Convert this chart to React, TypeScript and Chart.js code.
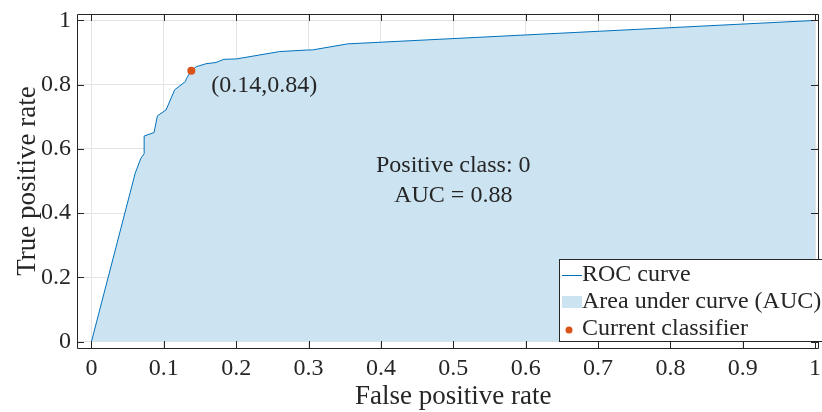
import React, { useEffect, useRef } from "react";
import { Chart, registerables } from "chart.js";

Chart.register(...registerables);

// ROC curve (false positive rate, true positive rate)
const fprValues = [0, 0.0604, 0.0683, 0.0728, 0.0728, 0.0865, 0.0911, 0.103, 0.115, 0.13, 0.131, 0.138, 0.145, 0.158, 0.172, 0.183, 0.2, 0.26, 0.299, 0.305, 0.354, 1];
const tprValues = [0, 0.524, 0.571, 0.585, 0.64, 0.651, 0.703, 0.721, 0.784, 0.81, 0.818, 0.844, 0.856, 0.865, 0.869, 0.879, 0.88, 0.903, 0.908, 0.908, 0.927, 1];

// current classifier
const classifierX = [0.138];
const classifierY = [0.843];
const classifierLabel = "(0.14,0.84)";

const xTicks = [0, 0.1, 0.2, 0.3, 0.4, 0.5, 0.6, 0.7, 0.8, 0.9, 1];
const yTicks = [0, 0.2, 0.4, 0.6, 0.8, 1];
const xTitle = "False positive rate";
const yTitle = "True positive rate";
const annotationLines = ["Positive class: 0", "AUC = 0.88"];
const legendLabels = ["ROC curve", "Area under curve (AUC)", "Current classifier"];

const FONT = "'Liberation Serif', 'Times New Roman', serif";
const TEXT = "#262626";
const LINE = "#0072BD";
const AREA = "rgb(204,227,241)";
const DOT = "#D95319";

const decor = {
  id: "decor",
  afterDatasetsDraw(chart: any) {
    const ctx = chart.ctx as CanvasRenderingContext2D;
    const { left, right, top, bottom } = chart.chartArea;
    const xs = chart.scales.x;
    const ys = chart.scales.y;
    ctx.save();
    // box
    ctx.strokeStyle = TEXT;
    ctx.lineWidth = 1;
    ctx.beginPath();
    ctx.rect(left + 0.5, top + 0.5, right - left, bottom - top);
    ctx.stroke();
    // inward ticks
    const tl = 7;
    ctx.beginPath();
    xTicks.forEach((v) => {
      const px = Math.round(xs.getPixelForValue(v)) + 0.5;
      ctx.moveTo(px, bottom);
      ctx.lineTo(px, bottom - tl);
      ctx.moveTo(px, top);
      ctx.lineTo(px, top + tl);
    });
    yTicks.forEach((v) => {
      const py = Math.round(ys.getPixelForValue(v)) + 0.5;
      ctx.moveTo(left, py);
      ctx.lineTo(left + tl, py);
      ctx.moveTo(right, py);
      ctx.lineTo(right - tl, py);
    });
    ctx.stroke();

    // annotation texts
    ctx.fillStyle = TEXT;
    ctx.font = `24px ${FONT}`;
    ctx.textBaseline = "middle";
    ctx.textAlign = "left";
    const cpx = xs.getPixelForValue(classifierX[0]);
    const cpy = ys.getPixelForValue(classifierY[0]);
    ctx.fillText(classifierLabel, cpx + 20, cpy + 15);
    ctx.textAlign = "center";
    const ax = xs.getPixelForValue(0.5);
    const ay = ys.getPixelForValue(0.5);
    ctx.fillText(annotationLines[0], ax, ay - 15);
    ctx.fillText(annotationLines[1], ax, ay + 15);

    // axis titles
    ctx.font = `27px ${FONT}`;
    ctx.textAlign = "center";
    ctx.fillText(xTitle, (xs.getPixelForValue(0) + xs.getPixelForValue(1)) / 2, 397);
    ctx.save();
    ctx.translate(28, (ys.getPixelForValue(0) + ys.getPixelForValue(1)) / 2);
    ctx.rotate(-Math.PI / 2);
    ctx.fillText(yTitle, 0, 0);
    ctx.restore();

    // legend
    const lx = 559.5, ly = 259.5, lw = 270, lh = 82;
    ctx.fillStyle = "#ffffff";
    ctx.fillRect(lx, ly, lw, lh);
    ctx.strokeStyle = TEXT;
    ctx.strokeRect(lx, ly, lw, lh);
    const rows = [275, 302, 329];
    ctx.font = `24px ${FONT}`;
    ctx.textAlign = "left";
    ctx.fillStyle = TEXT;
    legendLabels.forEach((t, i) => ctx.fillText(t, 582, rows[i]));
    ctx.strokeStyle = LINE;
    ctx.beginPath();
    ctx.moveTo(562, rows[0] + 0.5);
    ctx.lineTo(582, rows[0] + 0.5);
    ctx.stroke();
    ctx.fillStyle = AREA;
    ctx.fillRect(562, rows[1] - 6, 20, 12);
    ctx.fillStyle = DOT;
    ctx.beginPath();
    ctx.arc(569, rows[2] + 1, 3.5, 0, Math.PI * 2);
    ctx.fill();
    ctx.restore();
  },
};

export default function App() {
  const ref = useRef<HTMLCanvasElement>(null);
  useEffect(() => {
    const canvas = ref.current!;
    const roc = fprValues.map((x, i) => ({ x, y: tprValues[i] }));
    const cls = classifierX.map((x, i) => ({ x, y: classifierY[i] }));
    const chart = new Chart(canvas, {
      type: "line",
      data: {
        datasets: [
          {
            label: legendLabels[2],
            type: "scatter",
            data: cls,
            pointRadius: 4,
            pointBorderWidth: 0,
            backgroundColor: DOT,
            borderColor: DOT,
            order: 0,
          } as any,
          {
            label: legendLabels[0],
            data: roc,
            borderColor: LINE,
            borderWidth: 1,
            backgroundColor: AREA,
            fill: "origin",
            pointRadius: 0,
            tension: 0,
            order: 1,
          },
        ],
      },
      options: {
        animation: false,
        responsive: false,
        maintainAspectRatio: false,
        devicePixelRatio: 1,
        layout: { padding: { top: 14, left: 0, right: 0, bottom: 0 } },
        plugins: { legend: { display: false }, tooltip: { enabled: false } },
        scales: {
          x: {
            type: "linear",
            min: -0.02,
            max: 1.004,
            afterBuildTicks: (s: any) => {
              s.ticks = xTicks.map((v) => ({ value: v }));
            },
            afterFit: (s: any) => {
              s.height = 64;
              s.paddingLeft = 0;
              s.paddingRight = 0;
            },
            ticks: {
              callback: (v: any) => String(v),
              font: { family: FONT, size: 24 },
              color: TEXT,
              padding: 6,
              maxRotation: 0,
              autoSkip: false,
            },
            grid: { color: "#e4e4e4", drawTicks: false },
            border: { display: false },
          },
          y: {
            type: "linear",
            min: -0.02,
            max: 1.02,
            afterBuildTicks: (s: any) => {
              s.ticks = yTicks.map((v) => ({ value: v }));
            },
            afterFit: (s: any) => {
              s.width = 77;
              s.paddingTop = 0;
              s.paddingBottom = 0;
            },
            ticks: {
              callback: (v: any) => String(v),
              font: { family: FONT, size: 24 },
              color: TEXT,
              padding: 6,
              autoSkip: false,
            },
            grid: { color: "#e4e4e4", drawTicks: false },
            border: { display: false },
          },
        },
      },
      plugins: [decor],
    });
    return () => chart.destroy();
  }, []);
  return (
    <div style={{ position: "fixed", left: 0, top: 0, width: 822, height: 412, background: "#fff" }}>
      <canvas ref={ref} width={822} height={412} style={{ width: 822, height: 412, display: "block" }} />
    </div>
  );
}
